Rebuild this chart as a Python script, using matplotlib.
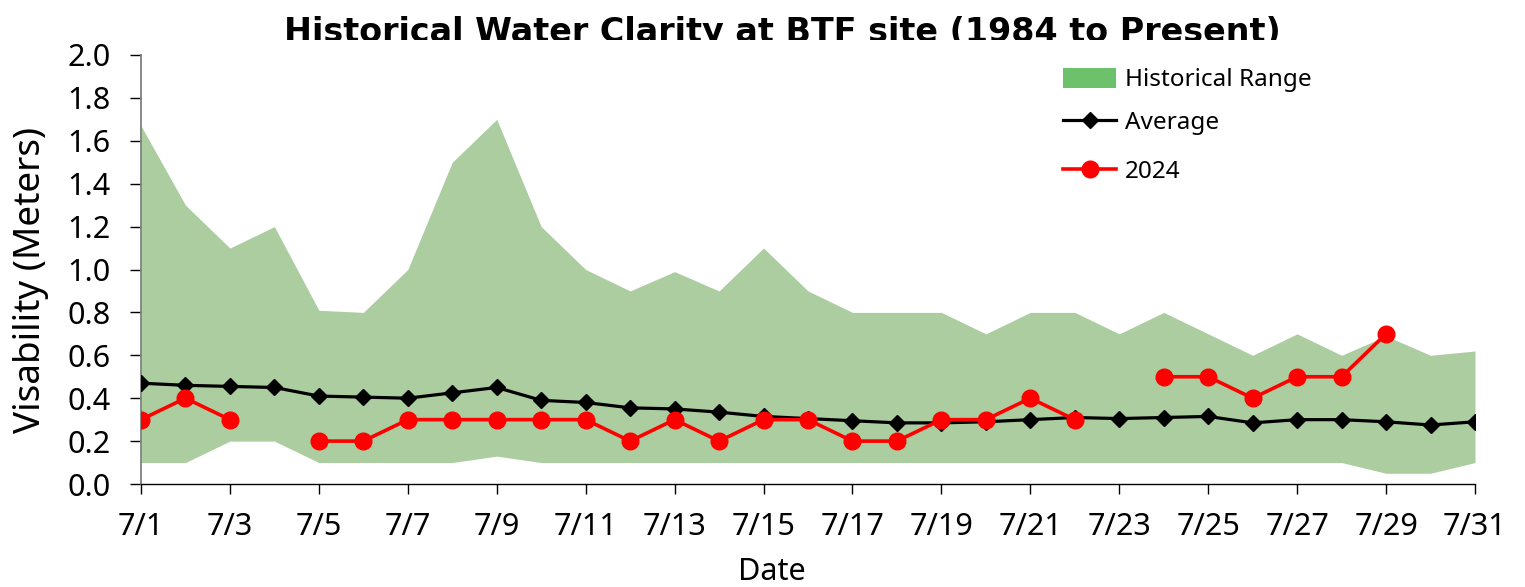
import matplotlib
matplotlib.use("Agg")
import matplotlib.pyplot as plt
import numpy as np
from matplotlib.patches import Patch
from matplotlib.lines import Line2D
from matplotlib.transforms import Bbox, TransformedBbox

plt.rcParams['font.family'] = ['Noto Sans', 'DejaVu Sans']

# July dates (day of month)
days = list(range(1, 32))
date_labels = ["7/" + str(d) for d in days]

# historical range (meters)
hist_max = [1.67, 1.30, 1.10, 1.20, 0.81, 0.80, 1.00, 1.50, 1.70, 1.20,
            1.00, 0.90, 0.99, 0.90, 1.10, 0.90, 0.80, 0.80, 0.80, 0.70,
            0.80, 0.80, 0.70, 0.80, 0.70, 0.60, 0.70, 0.60, 0.69, 0.60, 0.62]
hist_min = [0.10, 0.10, 0.20, 0.20, 0.10, 0.10, 0.10, 0.10, 0.13, 0.10,
            0.10, 0.10, 0.10, 0.10, 0.10, 0.10, 0.10, 0.10, 0.10, 0.10,
            0.10, 0.10, 0.10, 0.10, 0.10, 0.10, 0.10, 0.10, 0.05, 0.05, 0.10]
average = [0.47, 0.46, 0.455, 0.45, 0.41, 0.405, 0.40, 0.425, 0.45, 0.39,
           0.38, 0.355, 0.35, 0.335, 0.315, 0.305, 0.295, 0.285, 0.285, 0.29,
           0.30, 0.31, 0.305, 0.31, 0.315, 0.285, 0.30, 0.30, 0.29, 0.275, 0.29]
# 2024 readings, nan = no reading that day
y2024 = [0.3, 0.4, 0.3, np.nan, 0.2, 0.2, 0.3, 0.3, 0.3, 0.3,
         0.3, 0.2, 0.3, 0.2, 0.3, 0.3, 0.2, 0.2, 0.3, 0.3,
         0.4, 0.3, np.nan, 0.5, 0.5, 0.4, 0.5, 0.5, 0.7, np.nan, np.nan]

fig = plt.figure(figsize=(15.25, 5.87), dpi=100)
ax = fig.add_axes([141/1525, 1 - 484/587, (1475-141)/1525, (484-55)/587])

ax.fill_between(days, hist_min, hist_max, color="#abcda0", linewidth=0, zorder=1)
ax.plot(days, average, color="black", lw=2.3, marker="D", ms=8, zorder=3)
ax.plot(days, y2024, color="#ff0000", lw=2.6, marker="o", ms=12, zorder=4)

ax.set_xlim(1, 31)
ax.set_ylim(0, 2.0)
ax.set_yticks(np.arange(0, 2.01, 0.2))
ax.set_yticklabels(["%.1f" % v for v in np.arange(0, 2.01, 0.2)])
ax.set_xticks(days[::2])
ax.set_xticklabels(date_labels[::2])

for s in ["top", "right"]:
    ax.spines[s].set_visible(False)
ax.spines["left"].set_color("#808080")
ax.spines["left"].set_linewidth(1.3)
ax.spines["bottom"].set_color("black")
ax.spines["bottom"].set_linewidth(1.0)
ax.tick_params(axis="y", length=8, width=1.0, pad=14, labelsize=22)
ax.tick_params(axis="x", length=7, width=1.0, pad=13, labelsize=22)

ax.set_ylabel("Visability (Meters)", fontsize=26.5)
ax.yaxis.set_label_coords((49-141)/(1475-141), (484-280)/(484-55))
ax.set_xlabel("Date", fontsize=22)
ax.xaxis.set_label_coords((772-141)/(1475-141), (484-557)/(484-55))

t = fig.text(782/1525, 1 - 42/587, "Historical Water Clarity at BTF site (1984 to Present)",
             ha="center", va="baseline", fontsize=24, fontweight="bold",
             family="DejaVu Sans")
t.set_clip_box(TransformedBbox(Bbox([[0, 1 - 40/587], [1, 1]]), fig.transFigure))
t.set_clip_on(True)

leg_x = (1046-141)/(1475-141)
handles = [Patch(facecolor="#6cc16a", edgecolor="none"),
           Line2D([], [], color="black", lw=2.3, marker="D", ms=8)]
leg = ax.legend(handles, ["Historical Range", "Average"],
                loc="upper left", bbox_to_anchor=(leg_x, 1.01),
                frameon=False, fontsize=17.5, handlelength=2.2, handleheight=0.9,
                handletextpad=0.35, labelspacing=0.75, borderpad=0.2)
ax.add_artist(leg)
leg2 = ax.legend([Line2D([], [], color="#ff0000", lw=2.6, marker="o", ms=12)], ["2024"],
                 loc="upper left", bbox_to_anchor=(leg_x, (484-143)/(484-55)),
                 frameon=False, fontsize=17.5, handlelength=2.2, handleheight=0.9,
                 handletextpad=0.35, borderpad=0.2)

fig.savefig("out.png", dpi=100)
